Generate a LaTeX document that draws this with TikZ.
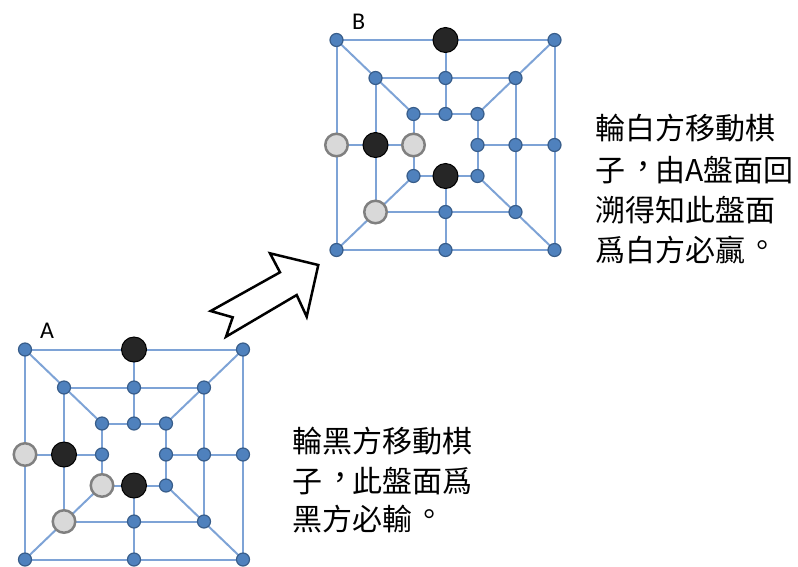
\documentclass[tikz,border=0pt]{standalone}
\usepackage{fontspec}
\newfontfamily\cjk[Script=CJK,Language=Chinese Traditional]{Noto Sans CJK TC}
\newfontfamily\lab{Carlito}
\usetikzlibrary{backgrounds}
\definecolor{lineblue}{HTML}{7EA3D6}
\definecolor{dotfill}{HTML}{4F81BD}
\definecolor{dotedge}{HTML}{385D8A}
\definecolor{blkfill}{HTML}{262626}
\definecolor{gryfill}{HTML}{D9D9D9}
\definecolor{gryedge}{HTML}{808080}
\newcommand\zcomma{\makebox[1em][l]{\hspace{0.1em}\raisebox{0.12em}{\makebox[0.5em][l]{，}}}}
\newcommand\zperiod{\makebox[1em][l]{\hspace{0.08em}\raisebox{0.16em}{\makebox[0.6em][l]{。}}}}
\tikzset{
 dot/.style={circle,fill=dotfill,draw=dotedge,line width=1.2pt,minimum size=13pt,inner sep=0pt},
 blackpc/.style={circle,fill=blkfill,draw=black,line width=1pt,minimum size=25pt,inner sep=0pt},
 greypc/.style={circle,fill=gryfill,draw=gryedge,line width=2.5pt,minimum size=22.5pt,inner sep=0pt},
 grid/.style={draw=lineblue,line width=2pt},
 note/.style={font=\cjk\fontsize{30}{39}\selectfont,anchor=base west,inner sep=0pt},
 boardlabel/.style={font=\lab\fontsize{24}{28}\selectfont,anchor=base west,inner sep=0pt},
 blockarrow/.style={draw=black,line width=2.5pt,fill=white,line join=miter}
}
\newcommand\mkboard[3]{%
 \foreach \r/\w/\h in {o/109/105,m/70/67,i/32/31}{
   \foreach \p/\sx/\sy in {tl/-1/-1,t/0/-1,tr/1/-1,r/1/0,br/1/1,b/0/1,bl/-1/1,l/-1/0}{
     \node[dot] (#1-\r-\p) at ({#2+\sx*\w},{#3+\sy*\h}) {};
   }
 }
 \begin{pgfonlayer}{background}
 \foreach \r in {o,m,i}{
   \draw[grid] (#1-\r-tl.center) -- (#1-\r-tr.center) -- (#1-\r-br.center) -- (#1-\r-bl.center) -- cycle;
 }
 \foreach \p in {tl,t,tr,r,br,b,bl,l}{
   \draw[grid] (#1-o-\p.center) -- (#1-i-\p.center);
 }
 \end{pgfonlayer}
}
\begin{document}
\begin{tikzpicture}[x=1pt,y=-1pt]
\useasboundingbox (0,0) rectangle (798,566);
% board A
\mkboard{A}{134}{454.5}
\node[blackpc] (A-p1) at (A-o-t) {};
\node[blackpc] (A-p2) at (A-m-l) {};
\node[blackpc] (A-p3) at (A-i-b) {};
\node[greypc] (A-p4) at (A-o-l) {};
\node[greypc] (A-p5) at (A-i-bl) {};
\node[greypc] (A-p6) at (A-m-bl) {};
\node[boardlabel] (A-lab) at (40,338) {A};
% board B
\mkboard{B}{445.5}{145}
\node[blackpc] (B-p1) at (B-o-t) {};
\node[blackpc] (B-p2) at (B-m-l) {};
\node[blackpc] (B-p3) at (B-i-b) {};
\node[greypc] (B-p4) at (B-o-l) {};
\node[greypc] (B-p5) at (B-i-l) {};
\node[greypc] (B-p6) at (B-m-bl) {};
\node[boardlabel] (B-lab) at (352,29.5) {B};
% block arrow
\draw[blockarrow] (210.7,311) -- (280,272.3) -- (270,253.3) -- (318.3,265) -- (306.7,316.7) -- (296.7,295) -- (226,336.7) -- (232.7,317.3) -- cycle;
% notes
\node[note] (nA1) at (292,452) {輪黑方移動棋};
\node[note] (nA2) at (292,492) {子\zcomma 此盤面爲};
\node[note] (nA3) at (292,530) {黑方必輸\zperiod};
\node[note] (nB1) at (595,139.5) {輪白方移動棋};
\node[note] (nB2) at (595,181) {子\zcomma 由A盤面回};
\node[note] (nB3) at (595,221) {溯得知此盤面};
\node[note] (nB4) at (595,261) {爲白方必贏\zperiod};
\end{tikzpicture}
\end{document}
